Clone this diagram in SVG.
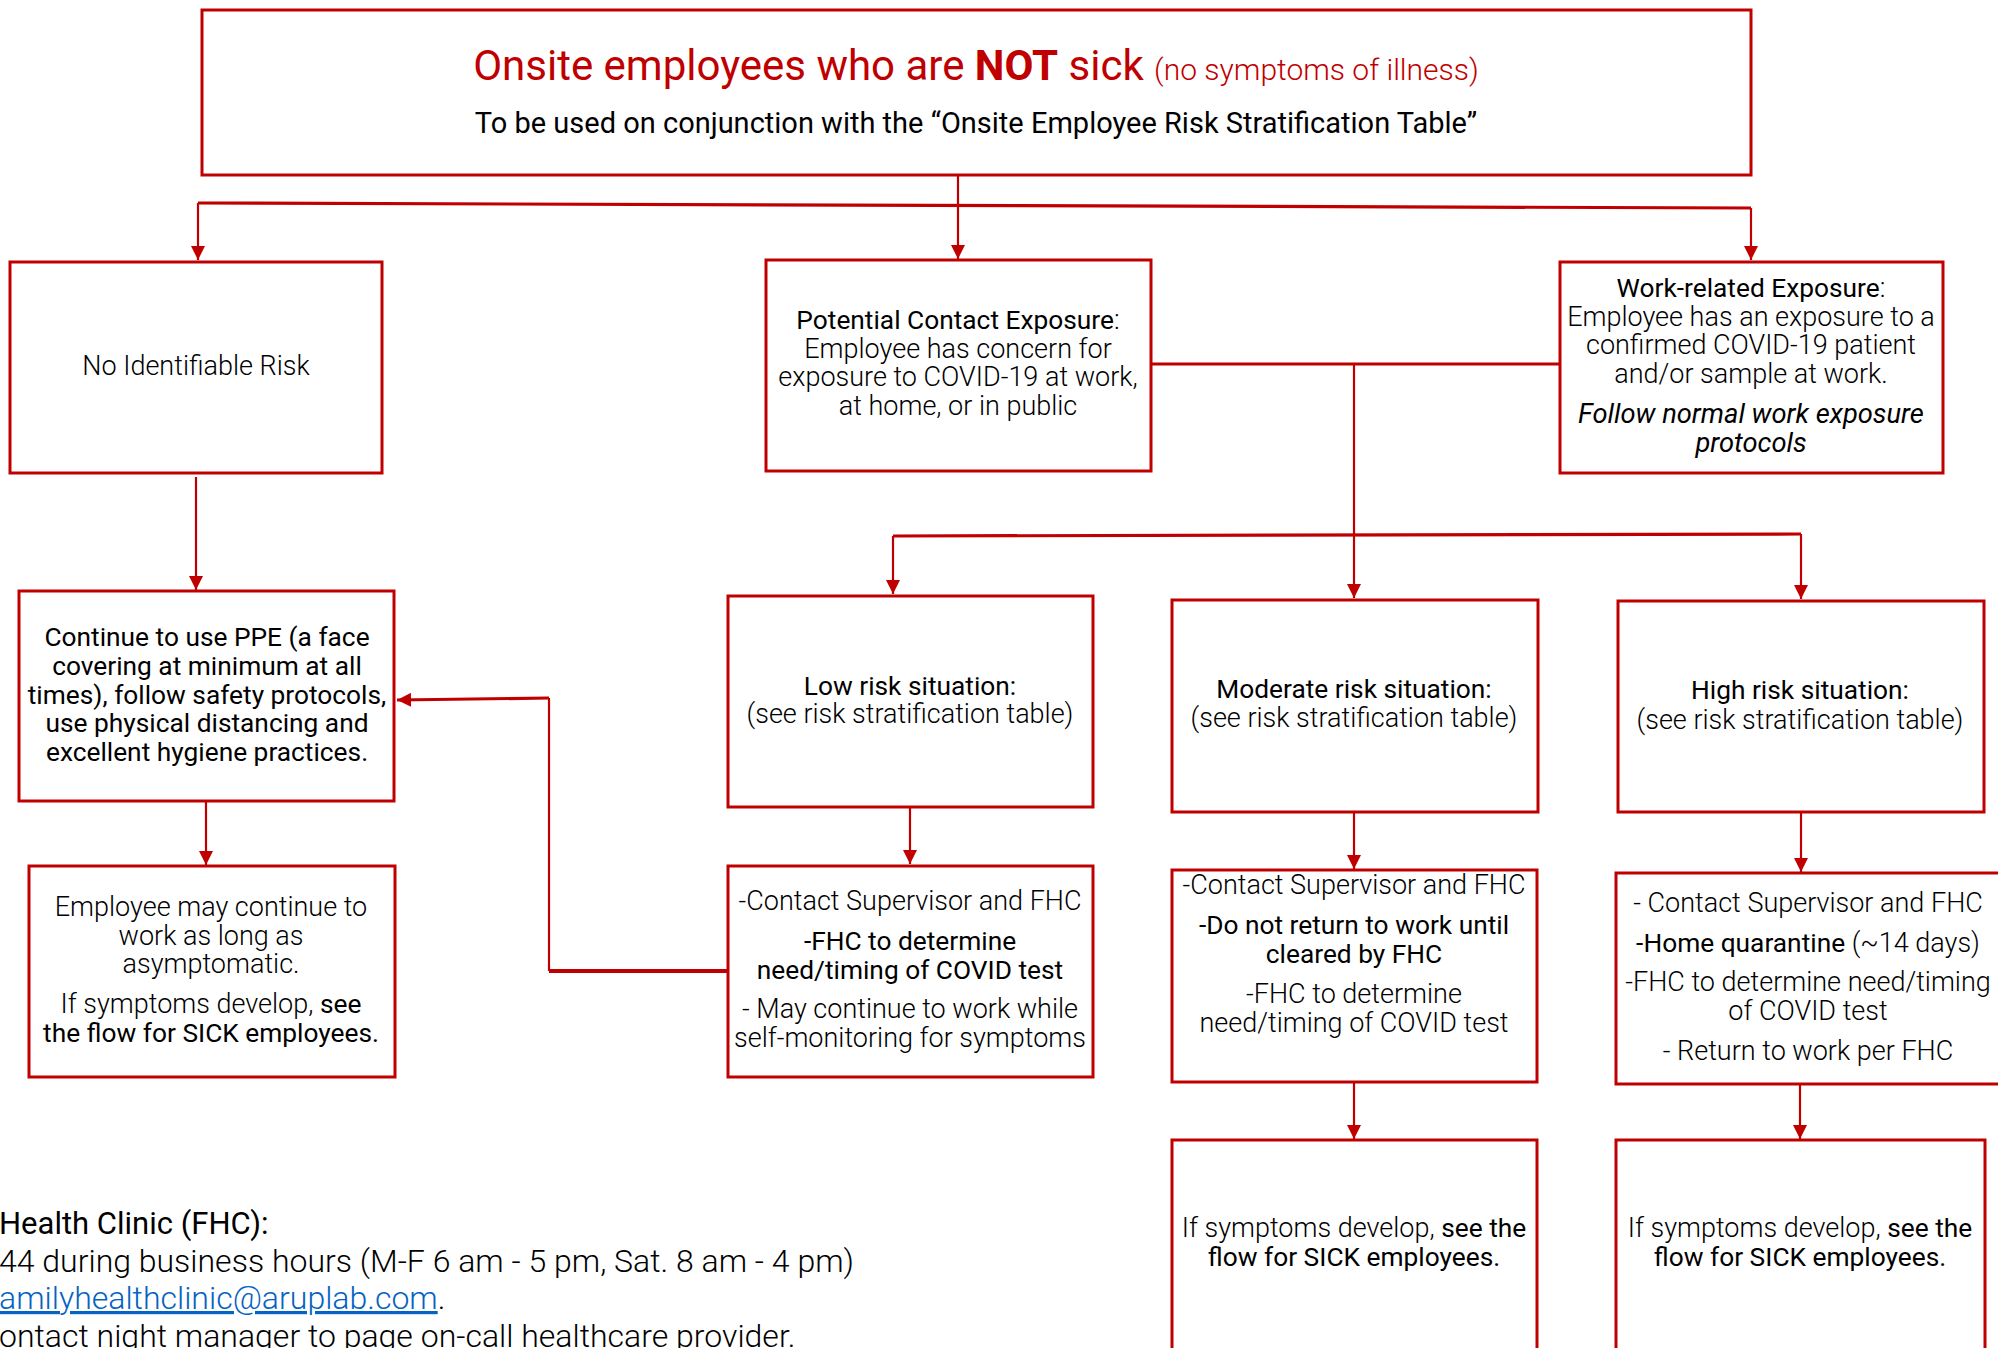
<svg xmlns="http://www.w3.org/2000/svg" width="1998" height="1348" viewBox="0 0 1998 1348">
<defs>
<style>
.box{fill:#fff;stroke:#C00000;stroke-width:3}
.ln{fill:none;stroke:#C00000;stroke-width:2.2}
.lnb{fill:none;stroke:#C00000;stroke-width:3.2}
text{font-family:Roboto,"Liberation Sans",sans-serif;font-size:26px;fill:#000;text-anchor:middle}
.l{font-weight:300;font-size:27px}
.r{font-weight:400;font-size:26.3px}
.b{font-weight:700}
.it{font-style:italic;font-weight:400;font-size:27.3px}
.foot{text-anchor:start}
.f1{font-size:31px}
.f2{font-size:32px}
</style>
<marker id="ah" markerUnits="userSpaceOnUse" markerWidth="14" markerHeight="14" refX="14" refY="7" orient="auto">
<path d="M0,0 L14,7 L0,14 z" fill="#C00000"/>
</marker>
</defs>
<rect width="1998" height="1348" fill="#fff"/>

<g id="connectors">
<path class="ln" d="M958,175 L958,259" marker-end="url(#ah)"/>
<path class="lnb" d="M198,203 L1751,208"/>
<path class="ln" d="M198,203 L198,260" marker-end="url(#ah)"/>
<path class="ln" d="M1751,208 L1751,260" marker-end="url(#ah)"/>
<path class="ln" d="M196,477 L196,590" marker-end="url(#ah)"/>
<path class="lnb" d="M1151,364 L1560,364"/>
<path class="ln" d="M1354,364 L1354,598" marker-end="url(#ah)"/>
<path class="lnb" d="M893,536 L1801,534"/>
<path class="ln" d="M893,536 L893,594" marker-end="url(#ah)"/>
<path class="ln" d="M1801,534 L1801,599" marker-end="url(#ah)"/>
<path class="ln" d="M910,807 L910,864" marker-end="url(#ah)"/>
<path class="ln" d="M1354,812 L1354,869" marker-end="url(#ah)"/>
<path class="ln" d="M1801,812 L1801,872" marker-end="url(#ah)"/>
<path class="ln" d="M206,801 L206,865" marker-end="url(#ah)"/>
<path fill="none" stroke="#C00000" stroke-width="4" d="M728,971 L549,971"/>
<path class="ln" d="M549,971 L549,698"/>
<path class="lnb" d="M549,698 L397,700" marker-end="url(#ah)"/>
<path class="ln" d="M1354,1082 L1354,1139" marker-end="url(#ah)"/>
<path class="ln" d="M1800,1084 L1800,1139" marker-end="url(#ah)"/>
</g>

<g id="top">
<rect class="box" x="202" y="10" width="1549" height="165"/>
<text x="976" y="80" style="font-size:42px;fill:#C00000;font-weight:400">Onsite employees who are <tspan class="b">NOT</tspan> sick <tspan style="font-weight:300;font-size:30px">(no symptoms of illness)</tspan></text>
<text x="976" y="133" style="font-size:29px;font-weight:400">To be used on conjunction with the “Onsite Employee Risk Stratification Table”</text>
</g>

<g id="no-risk">
<rect class="box" x="10" y="262" width="372" height="211"/>
<text x="196" y="375" class="l">No Identifiable Risk</text>
</g>

<g id="potential">
<rect class="box" x="766" y="260" width="385" height="211"/>
<text x="958" y="329" class="r">Potential Contact Exposure<tspan class="l">:</tspan></text>
<text x="958" y="358" class="l">Employee has concern for</text>
<text x="958" y="386" class="l">exposure to COVID-19 at work,</text>
<text x="958" y="415" class="l">at home, or in public</text>
</g>

<g id="work">
<rect class="box" x="1560" y="262" width="383" height="211"/>
<text x="1751" y="297" class="r">Work-related Exposure<tspan class="l">:</tspan></text>
<text x="1751" y="326" class="l">Employee has an exposure to a</text>
<text x="1751" y="354" class="l">confirmed COVID-19 patient</text>
<text x="1751" y="383" class="l">and/or sample at work.</text>
<text x="1751" y="423" class="it">Follow normal work exposure</text>
<text x="1751" y="452" class="it">protocols</text>
</g>

<g id="ppe">
<rect class="box" x="19" y="591" width="375" height="210"/>
<text x="207" y="646" class="r">Continue to use PPE (a face</text>
<text x="207" y="675" class="r">covering at minimum at all</text>
<text x="207" y="704" class="r">times), follow safety protocols,</text>
<text x="207" y="732" class="r">use physical distancing and</text>
<text x="207" y="761" class="r">excellent hygiene practices.</text>
</g>

<g id="low">
<rect class="box" x="728" y="596" width="365" height="211"/>
<text x="910" y="695" class="r">Low risk situation:</text>
<text x="910" y="723" class="l">(see risk stratification table)</text>
</g>

<g id="moderate">
<rect class="box" x="1172" y="600" width="366" height="212"/>
<text x="1354" y="698" class="r">Moderate risk situation:</text>
<text x="1354" y="727" class="l">(see risk stratification table)</text>
</g>

<g id="high">
<rect class="box" x="1618" y="601" width="366" height="211"/>
<text x="1800" y="699" class="r">High risk situation:</text>
<text x="1800" y="729" class="l">(see risk stratification table)</text>
</g>

<g id="employee-continue">
<rect class="box" x="29" y="866" width="366" height="211"/>
<text x="211" y="916" class="l">Employee may continue to</text>
<text x="211" y="945" class="l">work as long as</text>
<text x="211" y="973" class="l">asymptomatic.</text>
<text x="211" y="1013" class="l">If symptoms develop, <tspan class="r">see</tspan></text>
<text x="211" y="1042" class="r">the flow for SICK employees.</text>
</g>

<g id="low-actions">
<rect class="box" x="728" y="866" width="365" height="211"/>
<text x="910" y="910" class="l">-Contact Supervisor and FHC</text>
<text x="910" y="950" class="r">-FHC to determine</text>
<text x="910" y="979" class="r">need/timing of COVID test</text>
<text x="910" y="1018" class="l">- May continue to work while</text>
<text x="910" y="1047" class="l">self-monitoring for symptoms</text>
</g>

<g id="moderate-actions">
<rect class="box" x="1172" y="870" width="365" height="212"/>
<text x="1354" y="894" class="l">-Contact Supervisor and FHC</text>
<text x="1354" y="934" class="r">-Do not return to work until</text>
<text x="1354" y="963" class="r">cleared by FHC</text>
<text x="1354" y="1003" class="l">-FHC to determine</text>
<text x="1354" y="1032" class="l">need/timing of COVID test</text>
</g>

<g id="high-actions">
<rect class="box" x="1616" y="873" width="400" height="211"/>
<text x="1808" y="912" class="l">- Contact Supervisor and FHC</text>
<text x="1808" y="952" class="r">-Home quarantine <tspan class="l">(~14 days)</tspan></text>
<text x="1808" y="991" class="l">-FHC to determine need/timing</text>
<text x="1808" y="1020" class="l">of COVID test</text>
<text x="1808" y="1060" class="l">- Return to work per FHC</text>
</g>

<g id="moderate-sick">
<rect class="box" x="1172" y="1140" width="365" height="230"/>
<text x="1354" y="1237" class="l">If symptoms develop, <tspan class="r">see the</tspan></text>
<text x="1354" y="1266" class="r">flow for SICK employees.</text>
</g>

<g id="high-sick">
<rect class="box" x="1616" y="1140" width="369" height="230"/>
<text x="1800" y="1237" class="l">If symptoms develop, <tspan class="r">see the</tspan></text>
<text x="1800" y="1266" class="r">flow for SICK employees.</text>
</g>

<g id="fhc-info">
<text x="-1" y="1234" class="foot f1" style="font-weight:400">Health Clinic (FHC):</text>
<text x="-1" y="1272" class="foot f2" style="font-weight:300">44 during business hours (M-F 6 am - 5 pm, Sat. 8 am - 4 pm)</text>
<text x="-1" y="1309" class="foot f2" style="font-weight:300"><tspan style="fill:#0563C1;text-decoration:underline">amilyhealthclinic@aruplab.com</tspan>.</text>
<text x="-1" y="1347" class="foot f2" style="font-weight:300">ontact night manager to page on-call healthcare provider.</text>
</g>
</svg>
